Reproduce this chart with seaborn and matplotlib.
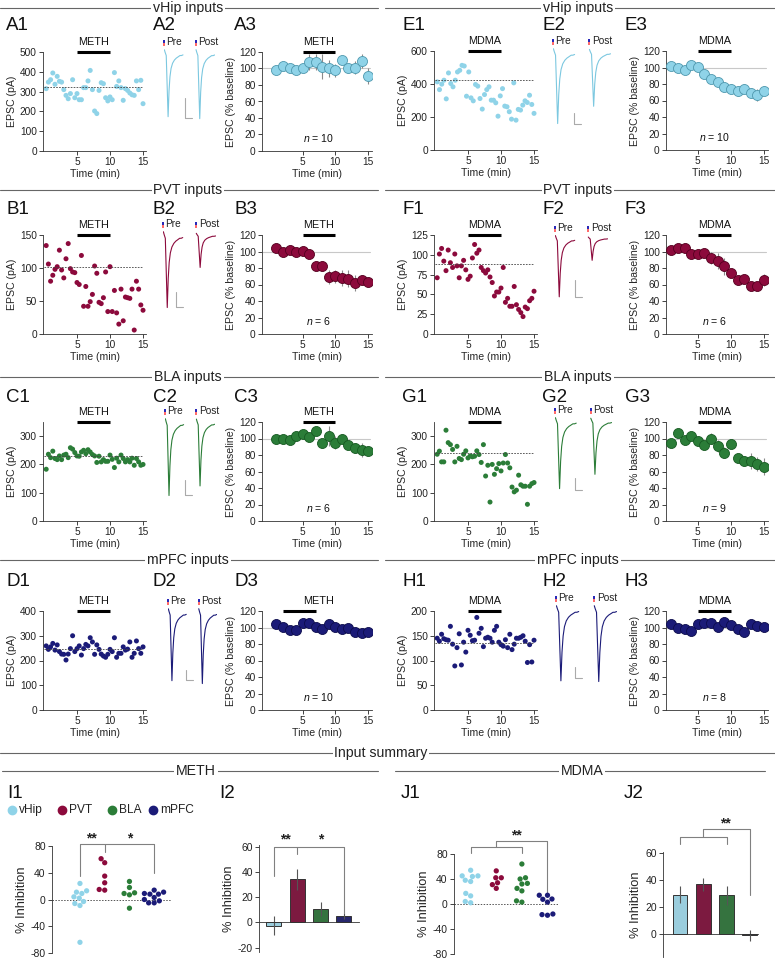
import numpy as np
import pandas as pd
import matplotlib
matplotlib.use("Agg")
import matplotlib.pyplot as plt
import seaborn as sns
from matplotlib.lines import Line2D
from matplotlib.patches import Rectangle

# ---------------- data ----------------
groups = ["vHip", "PVT", "BLA", "mPFC"]
time_ticks = [5, 10, 15]
minutes = list(range(1, 16))

# raw EPSC time courses (pA), one point per 20 s
A1_vals = [315, 348, 360, 394, 337, 377, 352, 348, 310, 281, 264, 290, 360, 269, 290, 259, 259, 320, 320, 354,
           407, 310, 202, 189, 306, 345, 340, 269, 253, 273, 259, 396, 326, 354, 320, 256, 315, 306, 293, 284,
           281, 354, 310, 357, 239]
E1_vals = [413, 366, 399, 423, 310, 467, 403, 383, 423, 473, 483, 513, 509, 326, 473, 316, 298, 397, 387, 312,
           248, 336, 366, 383, 302, 302, 286, 205, 328, 372, 266, 262, 232, 187, 407, 181, 246, 242, 272, 298,
           288, 332, 276, 222]
B1_vals = [134, 106, 80, 89, 98, 102, 127, 97, 85, 114, 137, 99, 94, 93, 78, 75, 119, 42, 72, 42,
           49, 60, 103, 92, 48, 46, 55, 94, 34, 102, 34, 66, 32, 15, 68, 20, 56, 55, 54, 68,
           6, 80, 68, 44, 36]
F1_vals = [71, 101, 108, 92, 80, 106, 90, 84, 101, 86, 71, 86, 93, 81, 69, 73, 96, 113, 102, 106,
           84, 80, 77, 81, 72, 65, 48, 53, 53, 58, 84, 40, 45, 35, 35, 60, 37, 31, 27, 22,
           34, 32, 42, 45, 54]
C1_vals = [183, 236, 224, 247, 221, 217, 230, 217, 233, 236, 224, 259, 254, 242, 230, 229, 244, 250, 238, 252,
           244, 235, 230, 207, 229, 209, 217, 211, 211, 233, 218, 189, 222, 209, 233, 221, 209, 217, 209, 222,
           197, 221, 209, 197, 200]
G1_vals = [236, 247, 209, 209, 321, 277, 270, 253, 209, 264, 221, 217, 236, 248, 223, 230, 227, 229, 248, 235,
           207, 270, 159, 197, 67, 200, 165, 185, 203, 177, 205, 235, 205, 188, 120, 103, 109, 162, 128, 123,
           123, 59, 123, 132, 136]
D1_vals = [259, 245, 255, 269, 242, 263, 236, 226, 225, 202, 226, 248, 300, 236, 248, 259, 222, 248, 265, 259,
           292, 275, 225, 263, 245, 226, 218, 213, 225, 245, 236, 292, 213, 229, 229, 255, 242, 246, 275, 213,
           229, 279, 248, 229, 255]
H1_vals = [145, 139, 153, 144, 142, 141, 169, 133, 89, 126, 154, 91, 137, 117, 161, 151, 140, 141, 187, 155,
           165, 128, 145, 147, 145, 137, 161, 169, 137, 132, 129, 142, 126, 153, 122, 133, 145, 145, 147, 150,
           139, 96, 132, 97, 141]
baselines = {"A": 325, "E": 423, "B": 101, "F": 88, "C": 230, "G": 242, "D": 245, "H": 135}

# normalised time courses (% baseline), mean and SEM per minute
A3_vals = [98, 103, 100, 98, 100, 108, 108, 102, 100, 98, 110, 100, 101, 109, 91]
A3_err = [3, 3, 3, 3, 3, 10, 10, 15, 10, 8, 5, 6, 8, 8, 10]
E3_vals = [102, 99, 97.5, 102.5, 100.5, 92, 86, 82, 76, 74.5, 72, 74.5, 69, 66.5, 72]
E3_err = [3, 3, 3, 3, 3, 4, 5, 5, 5, 5, 6, 6, 6, 7, 5]
B3_vals = [104, 99, 102, 99, 101, 97, 82, 82, 69, 70, 68, 67, 62, 66, 63]
B3_err = [2, 2, 2, 2, 2, 2, 5, 6, 8, 8, 10, 10, 10, 6, 6]
F3_vals = [102, 104, 104, 97, 97, 98.6, 92, 88.5, 82, 74, 65, 67, 58, 58, 65.5]
F3_err = [2, 2, 2, 2, 2, 2, 7, 10, 10, 5, 5, 5, 5, 5, 7]
C3_vals = [100, 99, 98, 103, 105, 102, 109, 94, 103, 95, 100, 92, 88, 86, 85]
C3_err = [2, 2, 2, 2, 2, 3, 5, 5, 12, 8, 5, 4, 6, 8, 6]
G3_vals = [94.6, 106.7, 98, 102.7, 97.5, 92, 100, 90.6, 83, 93, 76.5, 72.5, 72.5, 69, 66]
G3_err = [3, 5, 3, 3, 5, 5, 7, 7, 7, 5, 5, 6, 10, 8, 10]
D3_vals = [104, 101, 97, 97, 105, 106, 101, 98, 104, 101, 98, 100, 94, 93, 94]
D3_err = [2, 2, 2, 2, 2, 2, 2, 2, 2, 2, 2, 2, 2, 2, 2]
H3_vals = [104, 100, 98, 96, 104, 105, 105, 101, 107, 103, 98, 95, 104, 102, 101]
H3_err = [3, 3, 3, 3, 3, 3, 3, 3, 3, 3, 3, 3, 3, 3, 3]
n_cells = {"A": 10, "E": 10, "B": 6, "F": 6, "C": 6, "G": 9, "D": 10, "H": 8}

# example trace shape (normalised) and relative amplitudes pre / post
wave_t = [0.0, 0.04, 0.10, 0.20, 0.25, 0.30, 0.36, 0.44, 0.54, 0.64, 0.74, 0.84, 0.92, 1.0]
wave_v = [0.04, 0.0, -0.05, -1.0, -0.6, -0.38, -0.25, -0.17, -0.12, -0.09, -0.07, -0.05, -0.05, -0.04]
trace_amp = {"A": (0.97, 1.0), "E": (1.0, 0.76), "B": (1.0, 0.45), "F": (1.0, 0.38),
             "C": (1.0, 0.87), "G": (1.0, 0.79), "D": (0.96, 1.0), "H": (0.99, 1.0)}

# summary: % inhibition
I1_vHip = [24, 13, 11, 9, 4, 2, -3, -6, -9, -64]
I1_PVT = [61, 55, 35, 25, 15, 14]
I1_BLA = [27, 18, 10, 9, 7, -13]
I1_mPFC = [14, 11, 9, 8, 8, 3, 0, -2, -5, -5]
I2_mean = [-2.5, 34, 10.5, 5]
I2_sem = [7.5, 8, 5.5, 2.5]
J1_vHip = [54, 45, 45, 44, 38, 36, 17, 13, 4, 2]
J1_PVT = [53, 42, 42, 34, 31, 25]
J1_BLA = [64, 42, 40, 33, 32, 25, 21, 5, 3]
J1_mPFC = [14, 14, 8, 7.5, 3, -16, -17, -18]
J2_mean = [29.5, 37, 29, -0.5]
J2_sem = [6, 4.5, 7, 4]

# ---------------- style ----------------
sns.set_theme(style="ticks")
plt.rcParams["font.family"] = ["Liberation Sans", "DejaVu Sans"]
plt.rcParams["mathtext.fontset"] = "custom"
plt.rcParams["mathtext.it"] = "Liberation Sans:italic"
plt.rcParams["mathtext.rm"] = "Liberation Sans"
plt.rcParams["axes.unicode_minus"] = False

fill = {"vHip": "#8fd3e8", "PVT": "#8c0a3c", "BLA": "#2b7d38", "mPFC": "#1b1b78"}
edge = {"vHip": "#4f98ae", "PVT": "#55001f", "BLA": "#175a22", "mPFC": "#0c0c4c"}
GRID = "#333333"

W, H = 775, 960
fig = plt.figure(figsize=(7.75, 9.6), dpi=100)


def add_ax(x0, y0, x1, y1):
    return fig.add_axes([x0 / W, 1 - y1 / H, (x1 - x0) / W, (y1 - y0) / H])


def fx(x):
    return x / W


def fy(y):
    return 1 - y / H


def hline(x0, x1, y, color="#666666", lw=0.8):
    fig.add_artist(Line2D([fx(x0), fx(x1)], [fy(y), fy(y)], color=color, lw=lw))


def header(text, xc, y, x0, x1, fs=10.2):
    hline(x0, x1, y)
    fig.text(fx(xc), fy(y), text, ha="center", va="center", fontsize=fs, color="#222",
             bbox=dict(facecolor="white", edgecolor="none", pad=1.2))


def label(text, x, y):
    fig.text(fx(x), fy(y), text, ha="left", va="center", fontsize=13.5, color="#111")


def style(ax, fs=7.3):
    sns.despine(ax=ax)
    ax.tick_params(axis="both", labelsize=fs, length=3, width=0.6, pad=1.5, colors="#222")
    for s in ["left", "bottom"]:
        ax.spines[s].set_linewidth(0.6)
        ax.spines[s].set_color(GRID)


def drug_bar(ax, drug, span):
    tr = ax.get_xaxis_transform()
    ax.plot(list(span), [1.005, 1.005], transform=tr, color="black", lw=2.2, clip_on=False,
            solid_capstyle="butt")
    ax.text(7.5, 1.10, drug, transform=tr, ha="center", va="center", fontsize=7.8, color="#111")


def panel_raw(ax, vals, base, ylim, yticks, grp, drug):
    n = len(vals)
    df = pd.DataFrame({"t": np.arange(1, n + 1) * 15 / n, "v": vals})
    sns.scatterplot(data=df, x="t", y="v", ax=ax, color=fill[grp], s=13, edgecolor="none", linewidth=0)
    ax.plot([0, 15], [base, base], ls=(0, (2, 1.5)), color="#444", lw=0.6)
    ax.set_xlim(-0.15, 15.45)
    ax.set_ylim(*ylim)
    ax.set_yticks(yticks)
    ax.set_xticks(time_ticks)
    ax.set_xlabel("Time (min)", fontsize=7.6, labelpad=1.5)
    ax.set_ylabel("EPSC (pA)", fontsize=7.6, labelpad=2)
    style(ax)
    drug_bar(ax, drug, (5, 10))


def panel_norm(ax, vals, errs, grp, drug, n, xlim, span):
    ax.plot([xlim[0], 15.3], [100, 100], color="#c8c8c8", lw=0.8, zorder=1)
    ax.errorbar(minutes, vals, yerr=errs, fmt="none", ecolor="#8a8a8a", elinewidth=0.8, capsize=0, zorder=2)
    sns.scatterplot(x=minutes, y=vals, ax=ax, color=fill[grp], edgecolor=edge[grp], s=52, linewidth=0.6,
                    zorder=3)
    ax.set_xlim(*xlim)
    ax.set_ylim(0, 120)
    ax.set_yticks(range(0, 121, 20))
    ax.set_xticks(time_ticks)
    ax.set_xlabel("Time (min)", fontsize=7.6, labelpad=1.5)
    ax.set_ylabel("EPSC (% baseline)", fontsize=7.6, labelpad=2)
    style(ax)
    drug_bar(ax, drug, span)
    ax.text(7.5, 0.13, r"$n$ = %d" % n, transform=ax.get_xaxis_transform(), ha="center", va="center",
            fontsize=7.6, color="#111")


def traces(key, grp, x0, x1, top, bottom, sb):
    ax = add_ax(x0, top - 2, x1, bottom)
    pre, post = trace_amp[key]
    t = np.array(wave_t)
    v = np.array(wave_v)
    col = fill[grp] if grp != "vHip" else "#7cc8e0"
    ax.plot(t, v * pre, color=col, lw=0.8)
    ax.plot(t + 1.7, v * post, color=col, lw=0.8)
    ax.set_xlim(-0.02, 2.72)
    ax.set_ylim(-1.02, 0.05)
    ax.axis("off")
    post_x = x0 + (x1 - x0) * 1.72 / 2.74
    for xs, txt in [(x0, "Pre"), (post_x, "Post")]:
        fig.add_artist(Rectangle((fx(xs - 1), fy(top - 8.5)), 2 / W, 2.6 / H, color="#2a2ab8", lw=0))
        fig.add_artist(Rectangle((fx(xs - 1), fy(top - 5.2)), 2 / W, 2.6 / H, color="#ff6b6b", lw=0))
        fig.text(fx(xs + 2.5), fy(top - 9), txt, ha="left", va="center", fontsize=7.3, color="#222")
    sx, sy0, sy1 = sb
    fig.add_artist(Line2D([fx(sx), fx(sx), fx(sx + 7)], [fy(sy0), fy(sy1), fy(sy1)], color="#aaaaaa", lw=0.8))


# ---------------- rows ----------------
rows = [
    ("A", "L", "vHip", "METH", A1_vals, (0, 500), list(range(0, 501, 100)), A3_vals, A3_err, (5, 10)),
    ("E", "R", "vHip", "MDMA", E1_vals, (0, 600), [0, 200, 400, 600], E3_vals, E3_err, (5, 10)),
    ("B", "L", "PVT", "METH", B1_vals, (0, 150), [0, 50, 100, 150], B3_vals, B3_err, (5, 10)),
    ("F", "R", "PVT", "MDMA", F1_vals, (0, 125), [0, 25, 50, 75, 100, 125], F3_vals, F3_err, (5, 10)),
    ("C", "L", "BLA", "METH", C1_vals, (0, 350), [0, 100, 200, 300], C3_vals, C3_err, (5, 10)),
    ("G", "R", "BLA", "MDMA", G1_vals, (0, 350), [0, 100, 200, 300], G3_vals, G3_err, (5, 10)),
    ("D", "L", "mPFC", "METH", D1_vals, (0, 400), list(range(0, 401, 100)), D3_vals, D3_err, (2, 7)),
    ("H", "R", "mPFC", "MDMA", H1_vals, (0, 200), [0, 50, 100, 150, 200], H3_vals, H3_err, (5, 10)),
]
row_y = {"A": (52, 151), "E": (51, 150), "B": (235, 334), "F": (235, 334), "C": (422, 521), "G": (422, 521),
         "D": (611, 710), "H": (611, 710)}
lab_y = {"A": 25, "E": 25, "B": 210, "F": 210, "C": 397, "G": 397, "D": 582, "H": 582}
head_y = {"A": 8, "E": 8, "B": 190, "F": 190, "C": 377, "G": 377, "D": 560, "H": 560}
head_txt = {"vHip": "vHip inputs", "PVT": "PVT inputs", "BLA": "BLA inputs", "mPFC": "mPFC inputs"}
trace_pos = {"A": (164, 215, 51, 120, (185, 98, 118)), "E": (553, 611, 50, 125, (574, 113, 124)),
             "B": (163, 216, 233, 309, (176, 292, 307)), "F": (555, 608, 237, 298, (575, 280, 297)),
             "C": (165, 215, 420, 497, (185, 480, 495)), "G": (555, 612, 419, 490, (575, 478, 490)),
             "D": (168, 217, 610, 685, (186, 670, 680)), "H": (556, 617, 607, 683, (575, 667, 678))}

for key, side, grp, drug, raw, ylim, yt, norm, err, span in rows:
    y0, y1 = row_y[key]
    if side == "L":
        c1, c3, labx, xl3 = (43, 146), (262, 372), (6, 153, 234), (-1.2, 15.6)
        header(head_txt[grp], 188, head_y[key], 0, 378)
    else:
        c1, c3, labx, xl3 = (434, 537), (666, 768), (402, 542, 625), (0.2, 15.6)
        header(head_txt[grp], 578, head_y[key], 385, 775)
    ax1 = add_ax(c1[0], y0, c1[1], y1)
    panel_raw(ax1, raw, baselines[key], ylim, yt, grp, drug)
    ax3 = add_ax(c3[0], y0, c3[1], y1)
    panel_norm(ax3, norm, err, grp, drug, n_cells[key], xl3, span)
    tp = trace_pos[key]
    traces(key, grp, tp[0], tp[1], tp[2], tp[3], tp[4])
    for i, lx in enumerate(labx):
        label(f"{key}{i + 1}", lx, lab_y[key])

# ---------------- summary ----------------
header("Input summary", 381, 753, 0, 775)
header("METH", 196, 771, 2, 378)
header("MDMA", 582, 771, 395, 765)
for t, x in [("I1", 7), ("I2", 219), ("J1", 401), ("J2", 624)]:
    label(t, x, 793)

# legend
for (gx, name) in zip([12, 62, 112, 153], groups):
    fig.add_artist(Line2D([fx(gx)], [fy(810)], marker="o", ms=6, color=fill[name], lw=0))
    fig.text(fx(gx + 7), fy(810), name, ha="left", va="center", fontsize=8.6, color="#222")


def bracket(ax, pts, color="#808080"):
    xs, ys = zip(*pts)
    ax.plot(xs, ys, color=color, lw=0.8, clip_on=False)


def swarm(ax, data, xlim, ylim):
    df = pd.DataFrame({"g": sum([[g] * len(v) for g, v in zip(groups, data)], []),
                       "v": sum([list(v) for v in data], [])})
    ax.axhline(0, ls=(0, (1.5, 1.5)), color="#555", lw=0.7, zorder=1)
    sns.swarmplot(data=df, x="g", y="v", hue="g", order=groups, hue_order=groups, palette=fill,
                  size=3.8, ax=ax, legend=False, zorder=3)
    ax.set_xlim(*xlim)
    ax.set_ylim(*ylim)
    ax.set_yticks([-80, -40, 0, 40, 80])
    ax.set_xticks([])
    ax.set_xlabel("")
    ax.set_ylabel("% Inhibition", fontsize=9.3, labelpad=2)
    style(ax, fs=7.5)
    ax.spines["bottom"].set_visible(False)


def bars(ax, means, sems, xlim, ylim, yticks):
    df = pd.DataFrame({"g": groups, "v": means})
    sns.barplot(data=df, x="g", y="v", hue="g", order=groups, hue_order=groups, palette=fill, ax=ax,
                width=0.64, edgecolor="#333", linewidth=0.7, errorbar=None, legend=False)
    ax.errorbar(range(4), means, yerr=sems, fmt="none", ecolor="#555", elinewidth=0.8, capsize=0)
    ax.set_xlim(*xlim)
    ax.set_ylim(*ylim)
    ax.set_yticks(yticks)
    ax.set_xticks([])
    ax.set_xlabel("")
    ax.set_ylabel("% Inhibition", fontsize=9.3, labelpad=2)
    style(ax, fs=7.5)
    ax.spines["bottom"].set_position(("data", 0))


# I1
axI1 = add_ax(52, 846, 172, 953)
swarm(axI1, [I1_vHip, I1_PVT, I1_BLA, I1_mPFC], (-1.13, 3.72), (-80, 80))
bracket(axI1, [(0, 35), (0, 83.5), (3, 83.5), (3, 39)])
bracket(axI1, [(1, 83.5), (1, 71)])
axI1.text(0.47, 92, "**", ha="center", va="center", fontsize=10, fontweight="bold", color="#222")
axI1.text(2.0, 92, "*", ha="center", va="center", fontsize=10, fontweight="bold", color="#222")

# I2
axI2 = add_ax(259, 845, 359, 952)
bars(axI2, I2_mean, I2_sem, (-0.64, 3.65), (-23.4, 61.3), [-20, 0, 20, 40, 60])
bracket(axI2, [(0, 37), (0, 60), (3, 60), (3, 7.3)])
bracket(axI2, [(1, 60), (1, 54)])
axI2.text(0.5, 66, "**", ha="center", va="center", fontsize=10, fontweight="bold", color="#222")
axI2.text(2.0, 66, "*", ha="center", va="center", fontsize=10, fontweight="bold", color="#222")

# J1
axJ1 = add_ax(454, 854, 558, 954)
swarm(axJ1, [J1_vHip, J1_PVT, J1_BLA, J1_mPFC], (-0.65, 3.41), (-80, 80))
bracket(axJ1, [(0, 81), (0, 91.7), (2, 91.7), (2, 81)])
bracket(axJ1, [(1, 91.7), (1, 100.8), (3, 100.8), (3, 11.7)])
axJ1.text(1.77, 110, "**", ha="center", va="center", fontsize=10, fontweight="bold", color="#222")

# J2
axJ2 = add_ax(663, 852, 758, 957)
bars(axJ2, J2_mean, J2_sem, (-0.73, 3.35), (-16.7, 61), [0, 20, 40, 60])
bracket(axJ2, [(0, 67.2), (0, 72.2), (2, 72.2), (2, 67.2)])
bracket(axJ2, [(1, 72.2), (1, 78), (3, 78), (3, 29.3)])
axJ2.text(1.96, 82, "**", ha="center", va="center", fontsize=10, fontweight="bold", color="#222")

fig.savefig("out.png", dpi=100)
